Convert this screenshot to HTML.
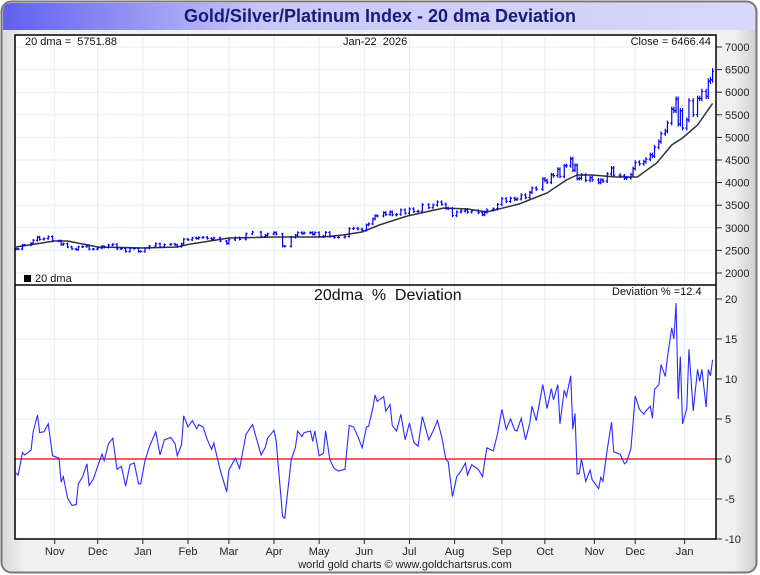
<!DOCTYPE html>
<html><head><meta charset="utf-8"><style>
body{margin:0;background:#fff;}
svg{display:block;font-family:"Liberation Sans",sans-serif;}
text{white-space:pre;}
</style></head><body>
<svg id="chart" width="760" height="575" viewBox="0 0 760 575">
<defs>
<linearGradient id="tg" x1="0" x2="1" y1="0" y2="0"><stop offset="0" stop-color="#6060f0"/><stop offset="0.35" stop-color="#c8c8f8"/><stop offset="1" stop-color="#d8d8fa"/></linearGradient>
<linearGradient id="bg" x1="0" x2="1" y1="0" y2="0"><stop offset="0" stop-color="#d8d8d8"/><stop offset="0.03" stop-color="#f0f0f0"/><stop offset="0.97" stop-color="#f0f0f0"/><stop offset="1" stop-color="#cfcfcf"/></linearGradient>
</defs>
<rect x="1.5" y="1.5" width="755" height="571" rx="10" fill="url(#bg)" stroke="#777" stroke-width="2"/>
<path d="M3,30 L3,12 Q3,3 12,3 L746,3 Q755,3 755,12 L755,30 Z" fill="url(#tg)"/>
<text x="380" y="22" text-anchor="middle" font-size="18" font-weight="bold" fill="#1a1a7a">Gold/Silver/Platinum Index - 20 dma Deviation</text>
<rect x="15" y="35" width="701" height="504" fill="#fff"/>
<g id="grid"></g>
<g id="marks"></g>
<rect x="15" y="35" width="701" height="504" fill="none" stroke="#000" stroke-width="1.5"/>
<line x1="15" y1="285" x2="716" y2="285" stroke="#000" stroke-width="1.5"/>
<g id="axes" font-size="11" fill="#222"></g>
<text x="25" y="45" font-size="11" fill="#111">20 dma =  5751.88</text>
<text x="343" y="45" font-size="11" fill="#111">Jan-22  2026</text>
<text x="711" y="45" text-anchor="end" font-size="11" fill="#111">Close = 6466.44</text>
<rect x="24" y="275" width="7" height="7" fill="#000"/>
<text x="35" y="282" font-size="11" fill="#111">20 dma</text>
<text x="314" y="300" font-size="16" fill="#111">20dma  %  Deviation</text>
<text x="612" y="295" font-size="11" fill="#111">Deviation % =12.4</text>
<text x="405" y="568" text-anchor="middle" font-size="11" fill="#222">world gold charts © www.goldchartsrus.com</text>
</svg>
<script>
const devDays=[0,1,3,4,7,8,10,11,13,15,17,20,21,22,24,26,28,29,31,33,34,36,38,40,41,43,45,47,49,51,53,55,57,58,60,62,65,67,69,72,74,75,77,78,80,82,84,85,87,89,91,92,95,98,99,102,104,107,110,114,116,117,120,121,124,125,128,130,131,133,134,137,138,139,141,143,144,146,148,150,153,155,157,159,161,163,164,166,167,168,171,172,174,175,177,179,181,183,185,187,189,192,194,196,198,200,201,203,205,207,209,210,212,215,217,218,219,222,224,226,228,230,232,233,235,237,239,240,242,245,246,247,249,250,252,253,255,256,258,259,260,261,262,263,265,267,268,271,272,273,275,277,278,281,283,284,286,287,288,290,292,293,295,296,297,299,300,302,303,305,306,307,308,309,310,312,313,315,317,318,319,321,322,323,324];
const devValues=[-1.75,-2,0.8,0.5,1.1,3.4,5.5,3.3,3.4,4.4,0.4,0.1,-2.9,-2.2,-4.9,-5.8,-5.7,-3.1,-2.2,-0.6,-3.3,-2.5,-0.9,0.6,-0.2,1.9,2.6,-1.3,-0.9,-3.4,-0.7,-0.5,-3.1,-3.1,-0.2,1.5,3.4,0.5,2.4,2.7,1.9,0.4,1.8,5.4,4.0,4.8,3.8,4.3,4.0,2.4,1.2,2.0,-1.4,-4.1,-1.4,0.1,-1.2,3.1,4.3,0.5,1.5,2.6,3.6,2.3,-7.2,-7.4,-0.1,1.5,3.5,2.8,3.3,3.5,2.2,3.5,0.4,0.7,3.5,-0.1,-1.2,-1.5,-1.3,4.2,4.0,2.8,1.4,4.0,4.1,6.4,8.0,7.2,7.8,6.0,6.8,4.2,3.5,5.6,2.4,4.5,2.1,1.6,5.3,2.4,3.5,4.8,2.8,-0.1,-0.3,-4.7,-2.2,-1.5,-0.5,-2.0,-0.7,-1.3,-2.2,-0.3,1.4,1.0,3.2,6.2,3.7,5.0,3.6,3.5,5.1,2.4,4.5,6.6,4.8,9.3,7.9,6.3,8.8,7.4,9.3,4.4,8.6,7.8,10.4,3.7,5.7,-1.9,-1.8,0,-2.8,-1.4,-2.6,-3.7,-2.3,-2.8,1.2,4.6,0.9,0.6,-0.6,-0.4,1.3,4.5,7.9,6.2,5.6,6.0,6.6,5.1,8.7,9.3,11.8,10.3,12.7,16.4,15.0,19.5,7.5,12.8,4.4,6.3,13.7,6.0,11.2,9.7,11.2,6.5,11.2,10.4,12.4];
const dmaDays=[0,18,24,38,59,75,81,99,121,143,152,161,169,182,199,210,219,234,247,256,261,268,279,289,298,305,310,317,324];
const dmaValues=[2575,2708,2708,2575,2553,2575,2640,2774,2796,2796,2840,2907,3062,3261,3438,3416,3350,3527,3770,4058,4168,4168,4124,4124,4434,4832,4987,5274,5752];
const priceTicks=[2000,2500,3000,3500,4000,4500,5000,5500,6000,6500,7000];
const devTicks=[-10,-5,0,5,10,15,20];
const monthLabels=["Nov","Dec","Jan","Feb","Mar","Apr","May","Jun","Jul","Aug","Sep","Oct","Nov","Dec","Jan"];
const monthDays=[18,38,59,80,99,120,141,162,183,204,226,246,269,288,311];

const NS="http://www.w3.org/2000/svg";
const xS=d=>16+d*2.15;
const yP=p=>273-(p-2000)*0.0452;
const yD=v=>459-v*8;
function mk(tag,attrs,parent){const e=document.createElementNS(NS,tag);for(const k in attrs)e.setAttribute(k,attrs[k]);parent.appendChild(e);return e;}
const grid=document.getElementById('grid'),marks=document.getElementById('marks'),axes=document.getElementById('axes');
function dmaAt(d){for(let i=1;i<dmaDays.length;i++){if(d<=dmaDays[i]){const t=(d-dmaDays[i-1])/(dmaDays[i]-dmaDays[i-1]);return dmaValues[i-1]+t*(dmaValues[i]-dmaValues[i-1]);}}return dmaValues[dmaValues.length-1];}
priceTicks.forEach(p=>{const y=yP(p);
 const g=mk('line',{x1:15,x2:716,y1:y,y2:y,stroke:'#e3eef8'},grid);
 const t=mk('line',{x1:716,x2:722,y1:y,y2:y,stroke:'#222'},axes);
 const l=mk('text',{x:725,y:y+4},axes);l.textContent=p;});
devTicks.forEach(v=>{const y=yD(v);
 const g=mk('line',{x1:15,x2:716,y1:y,y2:y,stroke:'#e3eef8'},grid);
 const t=mk('line',{x1:716,x2:722,y1:y,y2:y,stroke:'#222'},axes);
 const l=mk('text',{x:725,y:y+4},axes);l.textContent=v;});
monthDays.forEach((d,i)=>{const x=xS(d);
 const g=mk('line',{x1:x,x2:x,y1:35,y2:539,stroke:'#e3eef8'},grid);
 const t=mk('line',{x1:x,x2:x,y1:539,y2:544,stroke:'#222'},axes);
 const l=mk('text',{x:x,y:555,'text-anchor':'middle'},axes);l.textContent=monthLabels[i];});
const z=mk('line',{x1:15,x2:716,y1:yD(0),y2:yD(0),stroke:'#e00000','stroke-width':1.2},marks);


const dp=mk('polyline',{points:dmaDays.map((d,i)=>xS(d)+','+yP(dmaValues[i])).join(' '),fill:'none',stroke:'#333','stroke-width':1.5},marks);


let prev=null;
devDays.forEach((d,i)=>{const c=dmaAt(d)*(1+devValues[i]/100);const p0=prev===null?c:prev;
 const hi=Math.max(p0,c)*1.01,lo=Math.min(p0,c)*0.99,x=xS(d);
 const g=mk('g',{stroke:'#0000ee','stroke-width':1.2},marks);
 
 
 mk('line',{x1:x,x2:x,y1:yP(hi),y2:yP(lo)},g);
 mk('line',{x1:x-1.5,x2:x,y1:yP(p0),y2:yP(p0)},g);
 mk('line',{x1:x,x2:x+1.5,y1:yP(c),y2:yP(c)},g);
 prev=c;});
const dl=mk('polyline',{points:devDays.map((d,i)=>xS(d)+','+yD(devValues[i])).join(' '),fill:'none',stroke:'#2a2aff','stroke-width':1.1},marks);


</script>
</body></html>
